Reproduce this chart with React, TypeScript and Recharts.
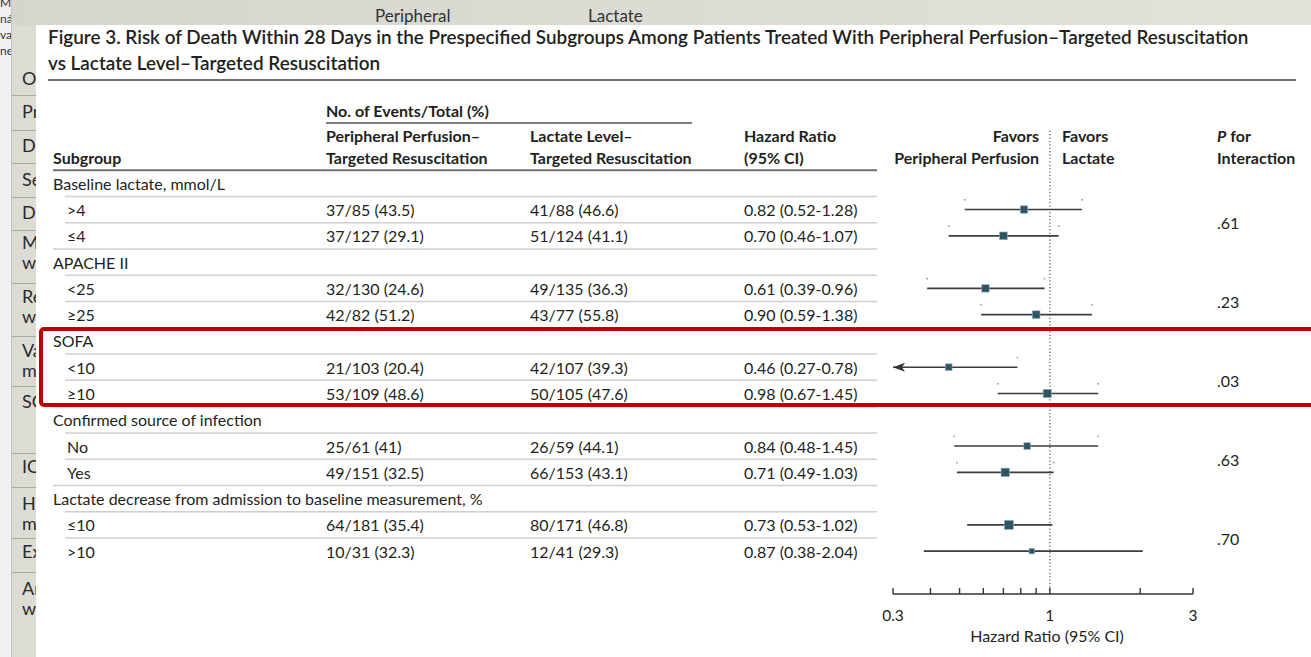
import React from 'react'
import { ScatterChart, Scatter, XAxis, YAxis, ReferenceLine } from 'recharts'

const FONT = 'Lato, "Noto Sans", sans-serif'
const INK = '#231f20'

// subgroup table
const groupNames = [
  'Baseline lactate, mmol/L',
  'APACHE II',
  'SOFA',
  'Confirmed source of infection',
  'Lactate decrease from admission to baseline measurement, %',
]
const levelNames = [
  ['>4', '≤4'],
  ['<25', '≥25'],
  ['<10', '≥10'],
  ['No', 'Yes'],
  ['≤10', '>10'],
]
const perfusionCounts = [
  '37/85 (43.5)', '37/127 (29.1)',
  '32/130 (24.6)', '42/82 (51.2)',
  '21/103 (20.4)', '53/109 (48.6)',
  '25/61 (41)', '49/151 (32.5)',
  '64/181 (35.4)', '10/31 (32.3)',
]
const lactateCounts = [
  '41/88 (46.6)', '51/124 (41.1)',
  '49/135 (36.3)', '43/77 (55.8)',
  '42/107 (39.3)', '50/105 (47.6)',
  '26/59 (44.1)', '66/153 (43.1)',
  '80/171 (46.8)', '12/41 (29.3)',
]
const hazardRatios = [0.82, 0.7, 0.61, 0.9, 0.46, 0.98, 0.84, 0.71, 0.73, 0.87]
const ciLower = [0.52, 0.46, 0.39, 0.59, 0.27, 0.67, 0.48, 0.49, 0.53, 0.38]
const ciUpper = [1.28, 1.07, 0.96, 1.38, 0.78, 1.45, 1.45, 1.03, 1.02, 2.04]
const pInteraction = ['.61', '.23', '.03', '.63', '.70']

const hrTicks = [0.3, 0.4, 0.5, 0.6, 0.7, 0.8, 0.9, 1, 2, 3]
const hrTickLabels = [0.3, 1, 3]
const HR_MIN = 0.3
const HR_MAX = 3

// the page behind the figure
const sideNotes = ['M', 'ná', 'val', 'ne']
const sideRows = [['Or'], ['Pr'], ['De'], ['Se'], ['De'], ['M', 'w'], ['Re', 'w'], ['Va', 'm'], ['SC', ''], ['IC'], ['H', 'm'], ['Ex'], ['Ar', 'w']]

type Row = { row: number; kind: 'group' | 'level'; label: string; g: number; idx: number }

const rows: Row[] = []
groupNames.forEach((name, g) => {
  rows.push({ row: 3 * g + 1, kind: 'group', label: name, g, idx: -1 })
  levelNames[g].forEach((lv, j) => {
    rows.push({ row: 3 * g + 2 + j, kind: 'level', label: lv, g, idx: 2 * g + j })
  })
})

const points = rows
  .filter(r => r.kind === 'level')
  .map(r => {
    const lo = ciLower[r.idx]
    const hi = ciUpper[r.idx]
    return { row: r.row, g: r.g, hr: hazardRatios[r.idx], lo, hi, weight: 1 / Math.log(hi / lo) }
  })

const arrowPoints = points.filter(p => p.lo < HR_MIN).map(p => ({ hr: HR_MIN, row: p.row }))
const capPoints = points
  .filter(p => p.g < 4)
  .flatMap(p => [{ hr: p.lo, row: p.row }, { hr: p.hi, row: p.row }])

// row centres plus the half steps where rules and P values sit
const rowTicks: number[] = []
for (let v = 0.5; v <= 15; v += 0.5) rowTicks.push(v)

const RowTick = ({ y, payload }: any) => {
  const v = payload.value as number
  const txt = { fontFamily: FONT, fontSize: 16, fill: INK, dominantBaseline: 'central' as const }
  if (Number.isInteger(v)) {
    const r = rows.find(d => d.row === v)
    if (!r) return <g />
    if (r.kind === 'group') {
      return <text x={53} y={y} {...txt}>{r.label}</text>
    }
    return (
      <g>
        <text x={67} y={y} {...txt}>{r.label}</text>
        <text x={326} y={y} {...txt}>{perfusionCounts[r.idx]}</text>
        <text x={530} y={y} {...txt}>{lactateCounts[r.idx]}</text>
        <text x={744} y={y} {...txt}>
          {`${hazardRatios[r.idx].toFixed(2)} (${ciLower[r.idx].toFixed(2)}-${ciUpper[r.idx].toFixed(2)})`}
        </text>
      </g>
    )
  }
  if (v === 0.5) {
    return <line x1={53} x2={877} y1={y} y2={y} stroke="#6f6f6f" strokeWidth={2} />
  }
  const step = (v - 0.5) % 3 // 1 after group title, 2 between levels, 0 after a group
  if (v > 15) return <g />
  const x1 = step === 0 ? 53 : 65
  return (
    <g>
      <line x1={x1} x2={877} y1={y} y2={y} stroke="#cfcfcf" strokeWidth={1.5} />
      {step === 2 && (
        <text x={1217} y={y} {...txt}>{pInteraction[Math.floor(v / 3)]}</text>
      )}
    </g>
  )
}

const HrTick = ({ x, y, payload }: any) => (
  <g>
    <line x1={x} x2={x} y1={y} y2={y - 6} stroke="#333" strokeWidth={1.4} />
    {hrTickLabels.includes(payload.value) && (
      <text x={x} y={y + 21} textAnchor="middle" dominantBaseline="central"
        fontFamily={FONT} fontSize={15.5} fill={INK}>
        {payload.value}
      </text>
    )}
  </g>
)

const HrBox = ({ cx, cy, payload }: any) => {
  const s = 3 + 4 * payload.weight
  return (
    <rect x={cx - s / 2} y={cy - s / 2} width={s} height={s}
      fill="#2d5564" stroke="#9db3bb" strokeWidth={0.6} />
  )
}

const LeftArrow = ({ cx, cy }: any) => (
  <path d={`M${cx},${cy} L${cx + 12},${cy - 4.5} L${cx + 9},${cy} L${cx + 12},${cy + 4.5} Z`} fill="#333" />
)

const CapDot = ({ cx, cy }: any) => (
  <rect x={cx - 0.8} y={cy - 10.5} width={1.6} height={1.6} fill="#9a9a9a" />
)

const headerText = { fontFamily: FONT, fontSize: 16, fontWeight: 700, fill: INK, dominantBaseline: 'central' as const }
const titleText = { fontFamily: FONT, fontSize: 18.9, fontWeight: 600, fill: INK, dominantBaseline: 'central' as const }

function PageBehind() {
  return (
    <>
      <div style={{ position: 'absolute', left: 0, top: 0, width: 1311, height: 25, background: 'linear-gradient(90deg,#d5d5cd,#e2e2da)' }} />
      <div style={{ position: 'absolute', left: 0, top: 0, width: 11, height: 657, background: '#f1f1f1', borderRight: '1px solid #c4c4c0' }} />
      <div style={{ position: 'absolute', left: 12, top: 25, width: 24, height: 632, background: '#dcdcd5' }} />
      {sideNotes.map((t, i) => (
        <div key={t + i} style={{ position: 'absolute', left: 0, top: -5 + i * 16, width: 11, overflow: 'hidden', fontSize: 12, lineHeight: '16px', color: '#333', whiteSpace: 'nowrap' }}>{t}</div>
      ))}
      {sideRows.map((lines, i) => {
        const tops = [68, 101, 135, 169, 202, 232, 286, 340, 391, 456, 493, 541, 578]
        const rules = [95, 130, 163, 197, 230, 283, 336, 386, 453, 487, 538, 572]
        return (
          <React.Fragment key={i}>
            <div style={{ position: 'absolute', left: 22, top: tops[i], width: 14, overflow: 'hidden', fontSize: 18, lineHeight: '20px', color: '#2a2a2a', whiteSpace: 'nowrap' }}>
              {lines.map((l, k) => <div key={k}>{l || '\u00a0'}</div>)}
            </div>
            {i < rules.length && (
              <div style={{ position: 'absolute', left: 12, top: rules[i], width: 24, height: 1, background: '#a9a9a4' }} />
            )}
          </React.Fragment>
        )
      })}
      <div style={{ position: 'absolute', left: 375, top: 6, fontSize: 17, lineHeight: '20px', color: '#333', fontFamily: FONT }}>Peripheral</div>
      <div style={{ position: 'absolute', left: 588, top: 6, fontSize: 17, lineHeight: '20px', color: '#333', fontFamily: FONT }}>Lactate</div>
    </>
  )
}

export default function App() {
  return (
    <div style={{ position: 'absolute', left: 0, top: 0, width: 1311, height: 657, overflow: 'hidden', background: '#dcdcd5', fontFamily: FONT }}>
      <PageBehind />
      <div style={{ position: 'absolute', left: 36, top: 25, width: 1275, height: 632, background: '#fff' }} />

      <svg width={1311} height={657} style={{ position: 'absolute', left: 0, top: 0 }}>
        <text x={48} y={36} {...titleText}>
          Figure 3. Risk of Death Within 28 Days in the Prespecified Subgroups Among Patients Treated With Peripheral Perfusion–Targeted Resuscitation
        </text>
        <text x={48} y={62} {...titleText}>
          vs Lactate Level–Targeted Resuscitation
        </text>
        <line x1={48} x2={1296} y1={80} y2={80} stroke="#707070" strokeWidth={2} />

        <text x={326} y={110} {...headerText}>No. of Events/Total (%)</text>
        <line x1={326} x2={692} y1={123} y2={123} stroke="#555" strokeWidth={1.5} />

        <text x={326} y={135} {...headerText}>Peripheral Perfusion–</text>
        <text x={326} y={157} {...headerText}>Targeted Resuscitation</text>
        <text x={530} y={135} {...headerText}>Lactate Level–</text>
        <text x={530} y={157} {...headerText}>Targeted Resuscitation</text>
        <text x={53} y={157} {...headerText}>Subgroup</text>
        <text x={744} y={135} {...headerText}>Hazard Ratio</text>
        <text x={744} y={157} {...headerText}>(95% CI)</text>
        <text x={1039} y={135} textAnchor="end" {...headerText}>Favors</text>
        <text x={1039} y={157} textAnchor="end" {...headerText}>Peripheral Perfusion</text>
        <text x={1062} y={135} {...headerText}>Favors</text>
        <text x={1062} y={157} {...headerText}>Lactate</text>
        <text x={1217} y={135} {...headerText}><tspan fontStyle="italic">P</tspan> for</text>
        <text x={1217} y={157} {...headerText}>Interaction</text>
      </svg>

      <div style={{ position: 'absolute', left: 0, top: 0 }}>
        <ScatterChart width={1311} height={657} margin={{ top: 157, right: 118, bottom: 13, left: 0 }}>
          <XAxis
            type="number"
            dataKey="hr"
            scale="log"
            domain={[HR_MIN, HR_MAX]}
            allowDataOverflow
            ticks={hrTicks}
            interval={0}
            height={50}
            tickSize={0}
            tickMargin={0}
            tickLine={false}
            axisLine={{ stroke: '#333', strokeWidth: 1.6 }}
            tick={(p: any) => <HrTick {...p} />}
            label={{ value: 'Hazard Ratio (95% CI)', position: 'insideBottom', offset: 2, dx: 4, fill: INK, fontSize: 16, fontFamily: FONT }}
          />
          <YAxis
            type="number"
            dataKey="row"
            domain={[0, 16.63]}
            reversed
            allowDataOverflow
            ticks={rowTicks}
            interval={0}
            width={893}
            axisLine={false}
            tickLine={false}
            tick={(p: any) => <RowTick {...p} />}
          />
          <ReferenceLine
            segment={[{ x: 1, y: -1 }, { x: 1, y: 16.63 }]}
            stroke="#555"
            strokeWidth={1.2}
            strokeDasharray="1.2 2.2"
            ifOverflow="visible"
          />
          {points.map(p => (
            <ReferenceLine
              key={p.row}
              segment={[{ x: Math.max(p.lo, HR_MIN), y: p.row }, { x: p.hi, y: p.row }]}
              stroke="#3d3d3d"
              strokeWidth={1.6}
              ifOverflow="visible"
            />
          ))}
          <Scatter data={capPoints} shape={<CapDot />} isAnimationActive={false} />
          <Scatter data={arrowPoints} shape={<LeftArrow />} isAnimationActive={false} />
          <Scatter data={points} shape={<HrBox />} isAnimationActive={false} />
        </ScatterChart>
      </div>

      <div style={{ position: 'absolute', left: 39, top: 327, width: 1300, height: 72, border: '4.5px solid #c00000', borderRadius: 5 }} />
    </div>
  )
}
